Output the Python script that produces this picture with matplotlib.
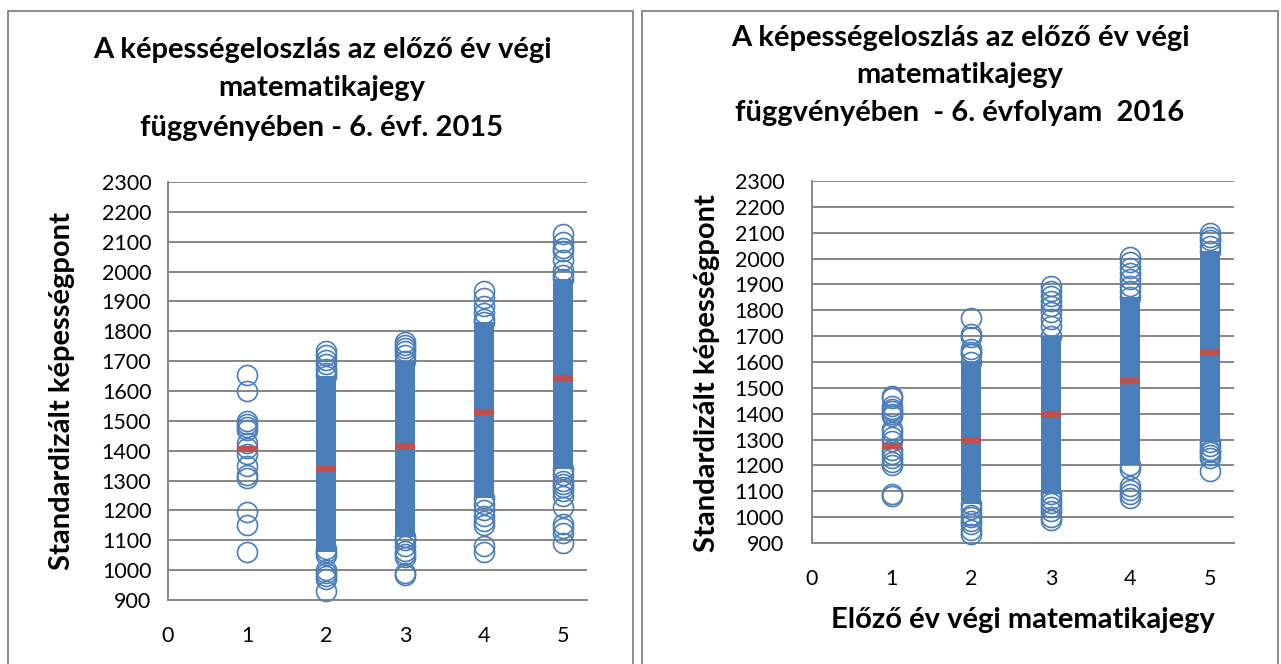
import matplotlib
matplotlib.use('Agg')
import matplotlib.pyplot as plt
from matplotlib.patches import Rectangle

plt.rcParams['font.family'] = ['Lato', 'DejaVu Sans']

grades = [1, 2, 3, 4, 5]
y_ticks = list(range(900, 2301, 100))
x_ticks = [0, 1, 2, 3, 4, 5]

# 2015 - separate circles (outliers / sparse ends) per grade
pts_2015 = {
    1: [1655, 1600, 1500, 1490, 1480, 1470, 1425, 1410, 1390, 1350, 1320, 1310, 1195, 1150, 1060],
    2: [1735, 1720, 1705, 1690, 1675, 1660, 1650, 1070, 1060, 1050, 1000, 990, 980, 970, 930],
    3: [1765, 1755, 1745, 1735, 1720, 1700, 1110, 1100, 1080, 1065, 1055, 1045, 990, 985],
    4: [1935, 1910, 1885, 1860, 1840, 1830, 1240, 1220, 1200, 1180, 1165, 1150, 1080, 1060],
    5: [2125, 2100, 2080, 2070, 2040, 2005, 1990, 1975, 1340, 1320, 1300, 1290, 1280, 1265,
        1250, 1210, 1155, 1140, 1125, 1090],
}
# dense part of each column (low, high)
core_2015 = {2: (1060, 1650), 3: (1110, 1700), 4: (1240, 1830), 5: (1340, 1975)}
mean_2015 = [1405, 1340, 1415, 1530, 1642]

pts_2016 = {
    1: [1470, 1460, 1430, 1420, 1410, 1400, 1390, 1340, 1330, 1310, 1295, 1260, 1245, 1230,
        1215, 1200, 1090, 1080],
    2: [1770, 1710, 1695, 1650, 1640, 1630, 1600, 1050, 1030, 1010, 1000, 985, 975, 950, 935],
    3: [1895, 1875, 1855, 1835, 1815, 1795, 1765, 1740, 1700, 1090, 1070, 1055, 1040, 1025,
        1000, 990],
    4: [2005, 1985, 1965, 1945, 1920, 1895, 1875, 1850, 1200, 1185, 1120, 1105, 1090, 1075],
    5: [2100, 2085, 2070, 2050, 2030, 1290, 1275, 1260, 1250, 1240, 1230, 1180],
}
core_2016 = {2: (1050, 1600), 3: (1090, 1700), 4: (1200, 1850), 5: (1290, 2030)}
mean_2016 = [1275, 1300, 1400, 1525, 1640]

title_2015 = ['A képességeloszlás az előző év végi', 'matematikajegy',
              'függvényében - 6. évf. 2015']
title_2016 = ['A képességeloszlás az előző év végi', 'matematikajegy',
              'függvényében  - 6. évfolyam  2016']
ylabel = 'Standardizált képességpont'
xlabel = 'Előző év végi matematikajegy'

W, H = 1281, 664
BLUE = '#4a7ebb'
RED = '#c0504d'
GRID = '#868686'

fig = plt.figure(figsize=(W / 100, H / 100), dpi=100)


def px_axes(x0, x1, y0, y1):
    return fig.add_axes([x0 / W, 1 - y1 / H, (x1 - x0) / W, (y1 - y0) / H])


def draw(ax, pts, core, means, ypad):
    for g, (lo, hi) in core.items():
        ax.vlines(g, lo, hi, color=BLUE, linewidth=14.4, capstyle='butt', zorder=3)
    for g in grades:
        ys = pts[g]
        ax.plot([g] * len(ys), ys, linestyle='none', marker='o', markersize=14.4,
                markerfacecolor='none', markeredgecolor=BLUE, markeredgewidth=1.2, zorder=4)
    ax.plot(grades, means, linestyle='none', marker='_', markersize=15,
            markeredgewidth=4.5, color=RED, zorder=5)
    ax.set_xlim(0, 5.3)
    ax.set_ylim(900, 2300)
    ax.set_xticks(x_ticks)
    ax.set_yticks(y_ticks)
    ax.grid(axis='y', color=GRID, linewidth=1.4)
    ax.set_axisbelow(True)
    for s in ['top', 'right']:
        ax.spines[s].set_visible(False)
    for s in ['left', 'bottom']:
        ax.spines[s].set_color(GRID)
        ax.spines[s].set_linewidth(1.4)
    ax.tick_params(length=0, labelsize=15.5, colors='black')
    ax.tick_params(axis='x', pad=19)
    ax.tick_params(axis='y', pad=ypad)
    for art in ax.lines + ax.collections:
        art.set_clip_on(False)


ax1 = px_axes(168, 587, 182, 600)
draw(ax1, pts_2015, core_2015, mean_2015, 12)
ax2 = px_axes(812, 1234, 181, 543)
draw(ax2, pts_2016, core_2016, mean_2016, 20)

# panel frames
for x0, x1 in [(8, 633), (642, 1278)]:
    fig.patches.append(Rectangle((x0 / W, -0.05), (x1 - x0) / W, 1.05 - 11 / H,
                                 transform=fig.transFigure, fill=False,
                                 edgecolor='#8c8c8c', linewidth=1.4))

for line, y in zip(title_2015, [50, 88, 128]):
    fig.text(322 / W, 1 - y / H, line, ha='center', va='center', fontsize=21, fontweight='bold')
for line, y in zip(title_2016, [38, 75, 113]):
    fig.text(960 / W, 1 - y / H, line, ha='center', va='center', fontsize=21, fontweight='bold')

fig.text(62 / W, 1 - 391 / H, ylabel, rotation=90, ha='center', va='center',
         fontsize=21, fontweight='bold')
fig.text(707 / W, 1 - 373 / H, ylabel, rotation=90, ha='center', va='center',
         fontsize=21, fontweight='bold')
fig.text(1023 / W, 1 - 620 / H, xlabel, ha='center', va='center',
         fontsize=21, fontweight='bold')

fig.savefig('out.png', dpi=100)
